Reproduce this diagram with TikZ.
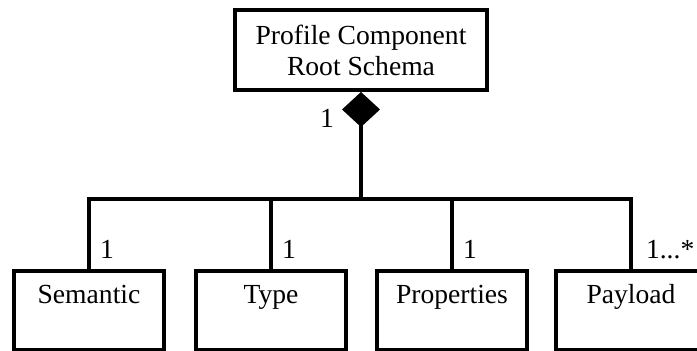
\documentclass[tikz,border=0pt]{standalone}
\usepackage{fontspec}
\setmainfont{Liberation Serif}
\usetikzlibrary{arrows.meta,positioning}

\begin{document}
\begin{tikzpicture}[x=0.5pt,y=-0.5pt,line width=2pt,
	font=\fontsize{13.8}{15.5}\selectfont,
	part/.style={draw,inner sep=0pt,minimum width=75pt,text height=16.5pt,text depth=23pt,anchor=north},
	mult/.style={inner sep=0pt}]
	\useasboundingbox (0,0) rectangle (697,351);
	\path (361,8) node (root) [draw,anchor=north,minimum width=126pt,minimum height=40pt,align=center]
			[label={[mult,anchor=south east,xshift=-12.5pt,yshift=-19pt]south:1}] {Profile Component\\Root Schema}
		  (89,269) node (sem) [part] [label={[mult,anchor=south west,xshift=4.5pt,yshift=4pt]north:1}] {Semantic}
		  (271,269) node (typ) [part] [label={[mult,anchor=south west,xshift=4.5pt,yshift=4pt]north:1}] {Type}
		  (452,269) node (prop) [part] [label={[mult,anchor=south west,xshift=4.5pt,yshift=4pt]north:1}] {Properties}
		  (631,269) node (pay) [part] [label={[mult,anchor=south west,xshift=6.5pt,yshift=4pt]north:1...*}] {Payload};
	\coordinate (hub) at (361,199);
	\draw[{Diamond[length=17.5pt,width=19pt]}-] (root.south) -- (hub);
	\draw (hub) -| (sem.north);
	\draw (hub) -| (typ.north);
	\draw (hub) -| (prop.north);
	\draw (hub) -| (pay.north);
\end{tikzpicture}
\end{document}
